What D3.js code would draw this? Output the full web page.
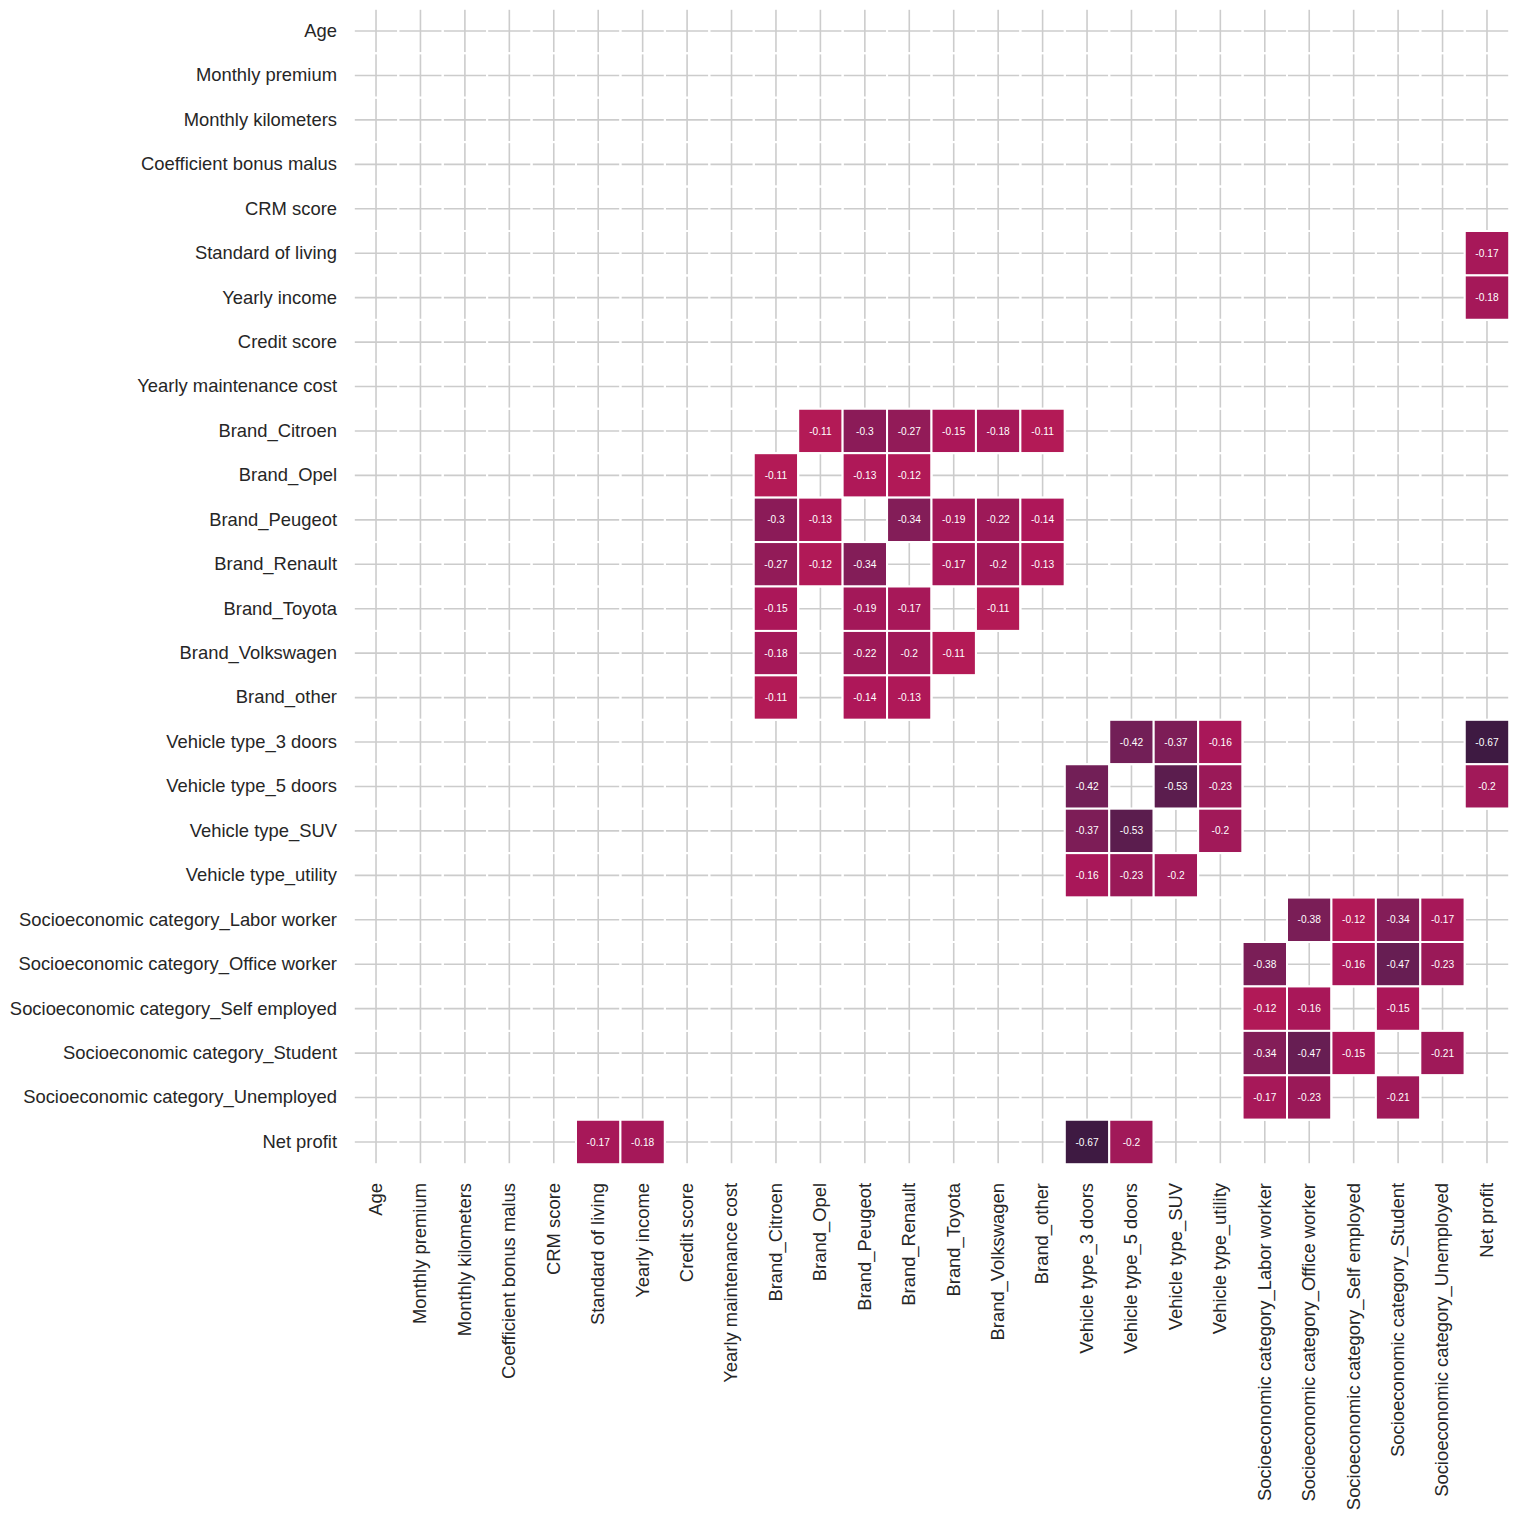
<!DOCTYPE html>
<html>
<head>
<meta charset="utf-8">
<script src="https://cdn.jsdelivr.net/npm/d3@7"></script>
<style>
  html, body { margin: 0; padding: 0; background: #ffffff; }
  svg { display: block; }
  text { font-family: "Liberation Sans", Arial, sans-serif; }
</style>
</head>
<body>
<svg id="chart" width="1520" height="1520"></svg>
<script>
// ---- Data ----
const variables = [
  "Age", "Monthly premium", "Monthly kilometers", "Coefficient bonus malus",
  "CRM score", "Standard of living", "Yearly income", "Credit score",
  "Yearly maintenance cost", "Brand_Citroen", "Brand_Opel", "Brand_Peugeot",
  "Brand_Renault", "Brand_Toyota", "Brand_Volkswagen", "Brand_other",
  "Vehicle type_3 doors", "Vehicle type_5 doors", "Vehicle type_SUV",
  "Vehicle type_utility", "Socioeconomic category_Labor worker",
  "Socioeconomic category_Office worker", "Socioeconomic category_Self employed",
  "Socioeconomic category_Student", "Socioeconomic category_Unemployed", "Net profit"
];

// Shown (unmasked) correlations, upper triangle: [row, column, value]
const pairRows = [
  "Standard of living", "Yearly income",
  "Brand_Citroen", "Brand_Citroen", "Brand_Citroen", "Brand_Citroen", "Brand_Citroen", "Brand_Citroen",
  "Brand_Opel", "Brand_Opel",
  "Brand_Peugeot", "Brand_Peugeot", "Brand_Peugeot", "Brand_Peugeot",
  "Brand_Renault", "Brand_Renault", "Brand_Renault",
  "Brand_Toyota",
  "Vehicle type_3 doors", "Vehicle type_3 doors", "Vehicle type_3 doors", "Vehicle type_3 doors",
  "Vehicle type_5 doors", "Vehicle type_5 doors", "Vehicle type_5 doors",
  "Vehicle type_SUV",
  "Socioeconomic category_Labor worker", "Socioeconomic category_Labor worker",
  "Socioeconomic category_Labor worker", "Socioeconomic category_Labor worker",
  "Socioeconomic category_Office worker", "Socioeconomic category_Office worker",
  "Socioeconomic category_Office worker",
  "Socioeconomic category_Self employed",
  "Socioeconomic category_Student"
];
const pairCols = [
  "Net profit", "Net profit",
  "Brand_Opel", "Brand_Peugeot", "Brand_Renault", "Brand_Toyota", "Brand_Volkswagen", "Brand_other",
  "Brand_Peugeot", "Brand_Renault",
  "Brand_Renault", "Brand_Toyota", "Brand_Volkswagen", "Brand_other",
  "Brand_Toyota", "Brand_Volkswagen", "Brand_other",
  "Brand_Volkswagen",
  "Vehicle type_5 doors", "Vehicle type_SUV", "Vehicle type_utility", "Net profit",
  "Vehicle type_SUV", "Vehicle type_utility", "Net profit",
  "Vehicle type_utility",
  "Socioeconomic category_Office worker", "Socioeconomic category_Self employed",
  "Socioeconomic category_Student", "Socioeconomic category_Unemployed",
  "Socioeconomic category_Self employed", "Socioeconomic category_Student",
  "Socioeconomic category_Unemployed",
  "Socioeconomic category_Student",
  "Socioeconomic category_Unemployed"
];
const pairValues = [
  -0.17, -0.18,
  -0.11, -0.30, -0.27, -0.15, -0.18, -0.11,
  -0.13, -0.12,
  -0.34, -0.19, -0.22, -0.14,
  -0.17, -0.20, -0.13,
  -0.11,
  -0.42, -0.37, -0.16, -0.67,
  -0.53, -0.23, -0.20,
  -0.20,
  -0.38, -0.12, -0.34, -0.17,
  -0.16, -0.47, -0.23,
  -0.15,
  -0.21
];

// rocket colormap stops
const rocketStops = ["#03051a", "#35193e", "#701f57", "#ad1759", "#e13342", "#f37651", "#f6b48f", "#faebdd"];

// ---- Build matrix (symmetric) ----
const valueMap = new Map();
pairRows.forEach((r, i) => {
  valueMap.set(r + "|" + pairCols[i], pairValues[i]);
  valueMap.set(pairCols[i] + "|" + r, pairValues[i]);
});
const cells = [];
variables.forEach(r => variables.forEach(c => {
  const k = r + "|" + c;
  cells.push({ row: r, col: c, value: valueMap.has(k) ? valueMap.get(k) : null });
}));

// ---- Layout ----
const svg = d3.select("#chart");
const x0 = 353.8, x1 = 1509.2, y0 = 8.8, y1 = 1164.2;

const x = d3.scaleBand().domain(variables).range([x0, x1]).padding(0);
const y = d3.scaleBand().domain(variables).range([y0, y1]).padding(0);

const color = d3.scaleLinear()
  .domain(d3.range(rocketStops.length).map(i => -1 + 2 * i / (rocketStops.length - 1)))
  .range(rocketStops)
  .interpolate(d3.interpolateRgb)
  .clamp(true);

// grid
const grid = svg.append("g").attr("class", "grid");
grid.selectAll("line.v").data(variables).join("line")
  .attr("x1", d => x(d) + x.bandwidth() / 2).attr("x2", d => x(d) + x.bandwidth() / 2)
  .attr("y1", y0).attr("y2", y1)
  .attr("stroke", "#cccccc").attr("stroke-width", 1.6);
grid.selectAll("line.h").data(variables).join("line")
  .attr("y1", d => y(d) + y.bandwidth() / 2).attr("y2", d => y(d) + y.bandwidth() / 2)
  .attr("x1", x0).attr("x2", x1)
  .attr("stroke", "#cccccc").attr("stroke-width", 1.6);

// cells (white edges for all, fill only for unmasked)
svg.append("g").selectAll("rect").data(cells).join("rect")
  .attr("x", d => x(d.col)).attr("y", d => y(d.row))
  .attr("width", x.bandwidth()).attr("height", y.bandwidth())
  .attr("fill", d => d.value === null ? "none" : color(d.value))
  .attr("stroke", "#ffffff").attr("stroke-width", 2);

// annotations
svg.append("g").selectAll("text").data(cells.filter(d => d.value !== null)).join("text")
  .attr("x", d => x(d.col) + x.bandwidth() / 2)
  .attr("y", d => y(d.row) + y.bandwidth() / 2)
  .attr("dy", "0.35em")
  .attr("text-anchor", "middle")
  .attr("font-size", 10.2)
  .attr("fill", "#ffffff")
  .text(d => String(+d.value.toFixed(2)));

// y axis labels
const yAxis = d3.axisLeft(y).tickSize(0).tickPadding(0);
const gy = svg.append("g").attr("transform", `translate(${337},0)`).call(yAxis);
gy.select(".domain").remove();
gy.selectAll("text")
  .attr("font-size", 18.4).attr("fill", "#262626")
  .attr("font-family", "'Liberation Sans', Arial, sans-serif")
  .attr("x", 0).attr("dy", "0.32em");

// x axis labels
const xAxis = d3.axisBottom(x).tickSize(0).tickPadding(0);
const gx = svg.append("g").attr("transform", `translate(0,${1183})`).call(xAxis);
gx.select(".domain").remove();
gx.selectAll("text")
  .attr("font-size", 18.4).attr("fill", "#262626")
  .attr("font-family", "'Liberation Sans', Arial, sans-serif")
  .attr("transform", "rotate(-90)")
  .attr("text-anchor", "end")
  .attr("x", 0).attr("y", 0).attr("dy", "0.32em");
</script>
</body>
</html>
